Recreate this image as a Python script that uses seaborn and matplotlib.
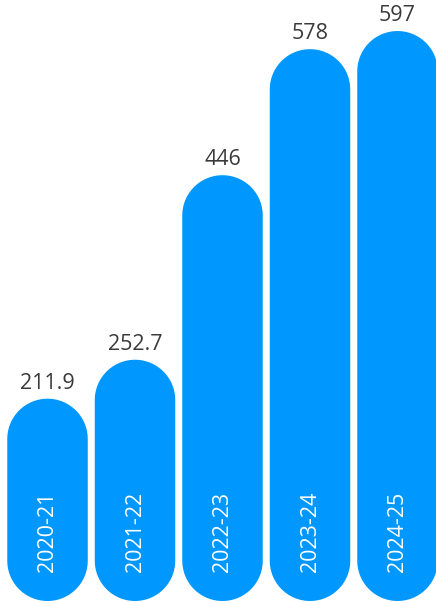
import matplotlib
matplotlib.use("Agg")
import matplotlib.pyplot as plt
from matplotlib.patches import Polygon
from matplotlib import font_manager
import seaborn as sns
import pandas as pd
import numpy as np

# ---- data ----
years = ["2020-21", "2021-22", "2022-23", "2023-24", "2024-25"]
values = [211.9, 252.7, 446, 578, 597]
value_labels = ["211.9", "252.7", "446", "578", "597"]

BAR_COLOR = "#0098FF"
TEXT_COLOR = "#3a3a3a"

sns.set_theme(style="white")
avail = {f.name for f in font_manager.fontManager.ttflist}
fam = [f for f in ["Open Sans", "Noto Sans", "DejaVu Sans"] if f in avail]
plt.rcParams["font.family"] = fam

W, H = 436, 603
fig = plt.figure(figsize=(W / 100, H / 100), dpi=100)
ax = fig.add_axes([0, 0, 1, 1])

df = pd.DataFrame({"year": years, "value": values})
bar_w = 0.92
sns.barplot(data=df, x="year", y="value", color=BAR_COLOR, saturation=1,
            width=bar_w, ax=ax, errorbar=None)

xlim = (-0.543, 4.44)
ylim = (-2.1, 629.5)
ax.set_xlim(*xlim)
ax.set_ylim(*ylim)
ax.axis("off")

px_per_x = W / (xlim[1] - xlim[0])
px_per_y = H / (ylim[1] - ylim[0])

patches = list(ax.patches)
t = np.linspace(0, np.pi, 60)
for p in patches:
    x0, y0 = p.get_x(), p.get_y()
    w, h = p.get_width(), p.get_height()
    rx = w / 2
    ry = rx * px_per_x / px_per_y
    xc = x0 + rx
    top_c = y0 + h - ry
    bot_c = y0 + ry
    top = np.column_stack([xc + rx * np.cos(t), top_c + ry * np.sin(t)])
    bot = np.column_stack([xc - rx * np.cos(t), bot_c - ry * np.sin(t)])
    pts = np.vstack([top, bot])
    poly = Polygon(pts, closed=True, facecolor=BAR_COLOR, edgecolor="none")
    p.remove()
    ax.add_patch(poly)

for i, (v, lab, yr) in enumerate(zip(values, value_labels, years)):
    ax.annotate(lab, (i, v), xytext=(0, 7), textcoords="offset points",
                ha="center", va="baseline", fontsize=15.5, color=TEXT_COLOR)
    ax.annotate(yr, (i, 0), xytext=(0, 21), textcoords="offset points",
                ha="center", va="bottom", rotation=90, fontsize=15.5,
                color="white")

fig.savefig("out.png", dpi=100)
